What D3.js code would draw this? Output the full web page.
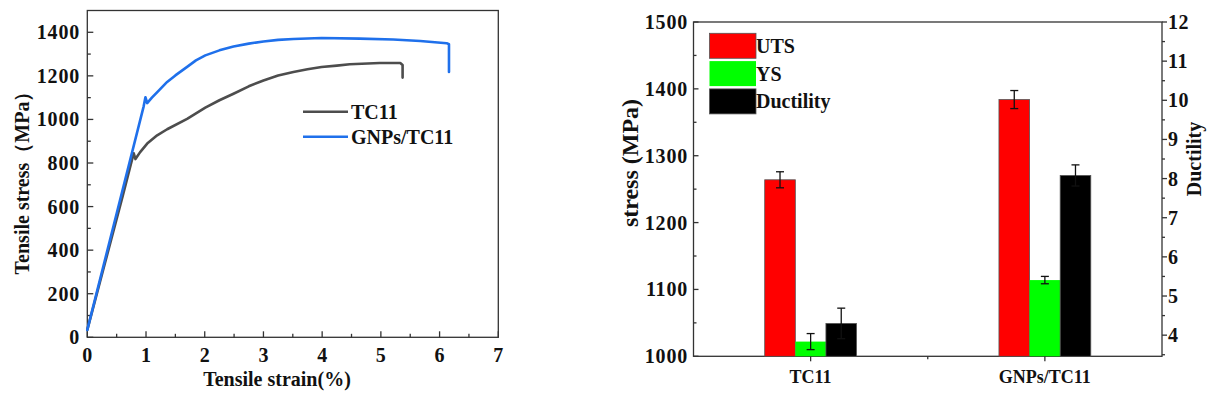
<!DOCTYPE html>
<html><head><meta charset="utf-8">
<script src="https://cdn.jsdelivr.net/npm/d3@7"></script>
<style>
body{margin:0;background:#fff;}
text{font-family:"Liberation Serif","Times New Roman",serif;font-weight:bold;fill:#111;}
</style></head>
<body><svg id="c" width="1214" height="396"></svg>
<script>
// ---- Left chart data: tensile curves ----
const strainTC11 = [0, 0.3, 0.6, 0.79, 0.82, 0.9, 1.02, 1.19, 1.36, 1.70, 2.01, 2.25, 2.49, 2.75, 3.0, 3.25, 3.51, 3.75, 3.99, 4.25, 4.47, 4.98, 5.33, 5.37, 5.37];
const stressTC11 = [34, 340, 645, 845, 818, 850, 889, 927, 955, 1003, 1054, 1088, 1118, 1152, 1179, 1202, 1218, 1230, 1241, 1247, 1253, 1259, 1259, 1250, 1192];
const strainGNP  = [0, 0.5, 0.96, 0.99, 1.02, 1.1, 1.2, 1.36, 1.5, 1.70, 1.85, 2.01, 2.25, 2.49, 2.75, 3.0, 3.25, 3.51, 3.99, 4.64, 5.21, 5.67, 6.12, 6.16, 6.16];
const stressGNP  = [34, 568, 1060, 1102, 1075, 1100, 1128, 1172, 1202, 1241, 1271, 1294, 1317, 1335, 1348, 1358, 1365, 1369, 1374, 1371, 1367, 1360, 1350, 1345, 1218];
const curveNames = ["TC11", "GNPs/TC11"];
const strainTicks = [0, 1, 2, 3, 4, 5, 6, 7];
const stressTicks = [0, 200, 400, 600, 800, 1000, 1200, 1400];

// ---- Right chart data: bars ----
const categories = ["TC11", "GNPs/TC11"];
const seriesNames = ["UTS", "YS", "Ductility"];
const utsValues = [1264, 1384];
const utsErr = [12, 13.5];
const ysValues = [1022, 1114];
const ysErr = [12, 5.5];
const ductValues = [4.30, 8.08];
const ductErr = [0.39, 0.27];
const stressBarTicks = [1000, 1100, 1200, 1300, 1400, 1500];
const ductTicks = [4, 5, 6, 7, 8, 9, 10, 11, 12];

const svg = d3.select("#c");
svg.append("rect").attr("width",1214).attr("height",396).attr("fill","#fff");

// ================= LEFT CHART =================
const L = {x0:87.3, x1:498.3, y0:10.5, y1:337.3};
const xS = d3.scaleLinear().domain([0,7]).range([L.x0, L.x1]);
const yS = d3.scaleLinear().domain([0,1500]).range([L.y1, L.y0]);
const gl = svg.append("g");
const axisColor = "#333";

// frame
gl.append("rect").attr("x",L.x0).attr("y",L.y0).attr("width",L.x1-L.x0).attr("height",L.y1-L.y0)
  .attr("fill","none").attr("stroke",axisColor).attr("stroke-width",1.3);

// x ticks (inward)
const xMinor = d3.range(0.5, 7, 1);
gl.selectAll(".xt").data(strainTicks).join("line")
  .attr("x1",d=>xS(d)).attr("x2",d=>xS(d)).attr("y1",L.y1).attr("y2",L.y1-6).attr("stroke",axisColor).attr("stroke-width",1.3);
gl.selectAll(".xm").data(xMinor).join("line")
  .attr("x1",d=>xS(d)).attr("x2",d=>xS(d)).attr("y1",L.y1).attr("y2",L.y1-3.5).attr("stroke",axisColor).attr("stroke-width",1.3);
gl.selectAll(".xl").data(strainTicks).join("text")
  .attr("x",d=>xS(d)).attr("y",362).attr("text-anchor","middle").attr("font-size",20).text(d=>d);
// y ticks
const yMinor = d3.range(100, 1500, 200);
gl.selectAll(".yt").data(stressTicks).join("line")
  .attr("x1",L.x0).attr("x2",L.x0+6).attr("y1",d=>yS(d)).attr("y2",d=>yS(d)).attr("stroke",axisColor).attr("stroke-width",1.3);
gl.selectAll(".ym").data(yMinor).join("line")
  .attr("x1",L.x0).attr("x2",L.x0+3.5).attr("y1",d=>yS(d)).attr("y2",d=>yS(d)).attr("stroke",axisColor).attr("stroke-width",1.3);
gl.selectAll(".yl").data(stressTicks).join("text")
  .attr("x",80).attr("y",d=>yS(d)+7).attr("text-anchor","end").attr("font-size",20).attr("letter-spacing",0.8).text(d=>d);

// titles
gl.append("text").attr("x",277).attr("y",386).attr("text-anchor","middle").attr("font-size",20).text("Tensile strain(%)");
gl.append("text").attr("transform","translate(29,178) rotate(-90)").attr("text-anchor","middle").attr("font-size",20).text("Tensile stress（MPa）");

// curves
const line = d3.line().x(d=>xS(d[0])).y(d=>yS(d[1])).curve(d3.curveLinear);
const curveColors = ["#4d4d4d", "#1f70eb"];
const curves = [d3.zip(strainTC11, stressTC11), d3.zip(strainGNP, stressGNP)];
curves.forEach((c,i)=>{
  gl.append("path").attr("d",line(c)).attr("fill","none").attr("stroke",curveColors[i])
    .attr("stroke-width",2.6).attr("stroke-linejoin","round").attr("stroke-linecap","round");
});
// legend
curveNames.forEach((n,i)=>{
  const y = 111.7 + i*25;
  gl.append("line").attr("x1",303).attr("x2",348).attr("y1",y).attr("y2",y).attr("stroke",curveColors[i]).attr("stroke-width",2.6);
  gl.append("text").attr("x",351).attr("y",y+7).attr("font-size",20).text(n);
});

// ================= RIGHT CHART =================
const R = {x0:693.5, x1:1162, y0:22, y1:356.3};
const gr = svg.append("g");
const xB = d3.scaleBand().domain(categories).range([R.x0, R.x1]).paddingInner(0).paddingOuter(0);
const bw = xB.bandwidth();
const xSub = d3.scaleBand().domain(seriesNames).range([bw*0.304, bw*0.696]);
const yL = d3.scaleLinear().domain([1000,1500]).range([R.y1, R.y0]);
const yR = d3.scaleLinear().domain([3.46,12]).range([R.y1, R.y0]);
const barColors = {"UTS":"#ff0000","YS":"#00ff00","Ductility":"#000000"};

// frame top + axes
gr.append("rect").attr("x",R.x0).attr("y",R.y0).attr("width",R.x1-R.x0).attr("height",R.y1-R.y0)
  .attr("fill","none").attr("stroke",axisColor).attr("stroke-width",1.3);

// bars
const barData = [];
categories.forEach((c,i)=>{
  barData.push({cat:c, s:"UTS", v:utsValues[i], e:utsErr[i], y:yL});
  barData.push({cat:c, s:"YS", v:ysValues[i], e:ysErr[i], y:yL});
  barData.push({cat:c, s:"Ductility", v:ductValues[i], e:ductErr[i], y:yR});
});
gr.selectAll(".bar").data(barData).join("rect")
  .attr("x",d=>xB(d.cat)+xSub(d.s)).attr("width",xSub.bandwidth())
  .attr("y",d=>d.y(d.v)).attr("height",d=>R.y1-d.y(d.v))
  .attr("fill",d=>barColors[d.s]).attr("stroke",d=>d.s==="YS"?"none":"#555").attr("stroke-width",0.8);
// error bars
const eb = gr.selectAll(".eb").data(barData).join("g");
eb.append("line").attr("x1",d=>xB(d.cat)+xSub(d.s)+xSub.bandwidth()/2).attr("x2",d=>xB(d.cat)+xSub(d.s)+xSub.bandwidth()/2)
  .attr("y1",d=>d.y(d.v+d.e)).attr("y2",d=>d.y(d.v-d.e)).attr("stroke","#111").attr("stroke-width",1.3);
[1,-1].forEach(sg=>{
  eb.append("line").attr("x1",d=>xB(d.cat)+xSub(d.s)+xSub.bandwidth()/2-4).attr("x2",d=>xB(d.cat)+xSub(d.s)+xSub.bandwidth()/2+4)
    .attr("y1",d=>d.y(d.v+sg*d.e)).attr("y2",d=>d.y(d.v+sg*d.e)).attr("stroke","#111").attr("stroke-width",1.3);
});

// bottom ticks (outward) at category centers and boundary
const bTicks = categories.map(c=>xB(c)+bw/2);
bTicks.push(R.x0+bw);
gr.selectAll(".bt").data(bTicks).join("line")
  .attr("x1",d=>d).attr("x2",d=>d).attr("y1",R.y1).attr("y2",(d,i)=>i<2?R.y1+5:R.y1+3).attr("stroke",axisColor).attr("stroke-width",1.3);
gr.selectAll(".bl").data(categories).join("text")
  .attr("x",d=>xB(d)+bw/2).attr("y",383).attr("text-anchor","middle").attr("font-size",18).text(d=>d);

// left axis (inward ticks)
const lMinor = d3.range(1050,1500,100);
gr.selectAll(".lt").data(stressBarTicks).join("line")
  .attr("x1",R.x0).attr("x2",R.x0+5).attr("y1",d=>yL(d)).attr("y2",d=>yL(d)).attr("stroke",axisColor).attr("stroke-width",1.3);
gr.selectAll(".lm").data(lMinor).join("line")
  .attr("x1",R.x0).attr("x2",R.x0+3).attr("y1",d=>yL(d)).attr("y2",d=>yL(d)).attr("stroke",axisColor).attr("stroke-width",1.3);
gr.selectAll(".ll").data(stressBarTicks).join("text")
  .attr("x",688).attr("y",d=>yL(d)+7).attr("text-anchor","end").attr("font-size",20).attr("letter-spacing",0.8).text(d=>d);

// right axis (outward ticks)
const rMinor = d3.range(3.5,12,1);
gr.selectAll(".rt").data(ductTicks).join("line")
  .attr("x1",R.x1).attr("x2",R.x1+5).attr("y1",d=>yR(d)).attr("y2",d=>yR(d)).attr("stroke",axisColor).attr("stroke-width",1.3);
gr.selectAll(".rm").data(rMinor).join("line")
  .attr("x1",R.x1).attr("x2",R.x1+3).attr("y1",d=>yR(d)).attr("y2",d=>yR(d)).attr("stroke",axisColor).attr("stroke-width",1.3);
gr.selectAll(".rl").data(ductTicks).join("text")
  .attr("x",1168).attr("y",d=>yR(d)+7).attr("text-anchor","start").attr("font-size",20).attr("letter-spacing",0.5).text(d=>d);

// axis titles
gr.append("text").attr("transform","translate(638,163) rotate(-90)").attr("text-anchor","middle").attr("font-size",24).text("stress (MPa)");
gr.append("text").attr("transform","translate(1201,159) rotate(-90)").attr("text-anchor","middle").attr("font-size",20).text("Ductility");

// legend
seriesNames.forEach((s,i)=>{
  const y = 33.3 + i*27.8;
  gr.append("rect").attr("x",709.5).attr("y",y).attr("width",46.5).attr("height",25)
    .attr("fill",barColors[s]).attr("stroke",s==="YS"?"none":"#555").attr("stroke-width",0.8);
  gr.append("text").attr("x",756).attr("y",y+19.5).attr("font-size",20).text(s);
});
</script></body></html>
